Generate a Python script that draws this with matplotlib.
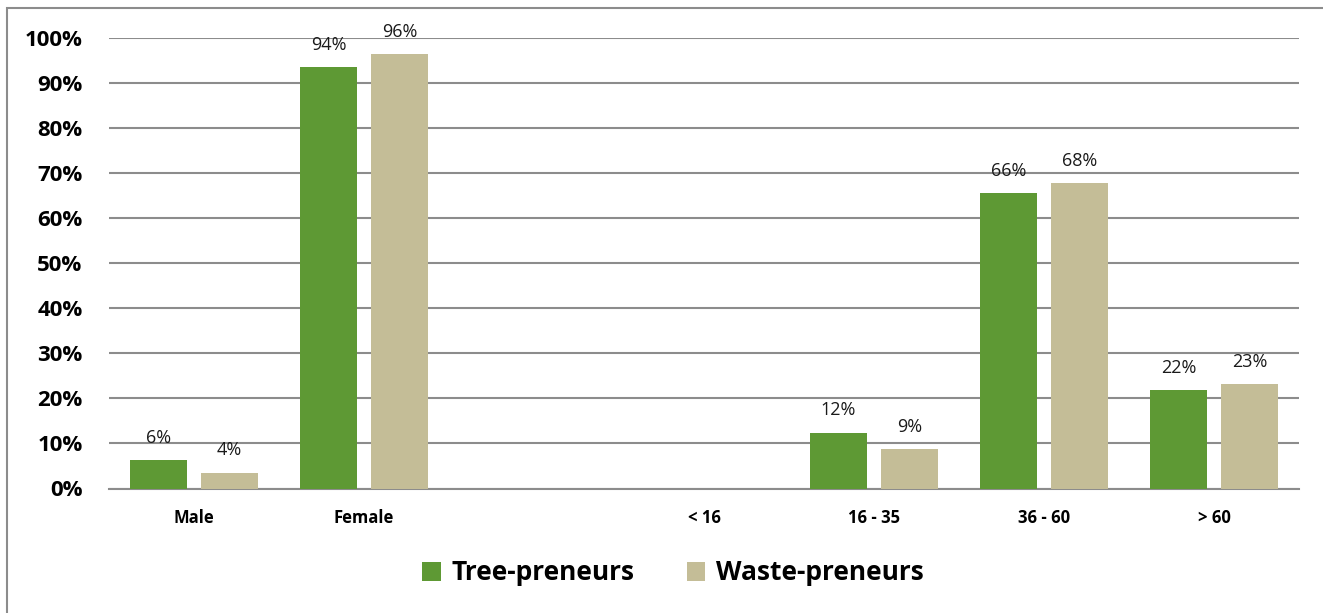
import matplotlib
matplotlib.use("Agg")
import matplotlib.pyplot as plt
from matplotlib.patches import Rectangle
import numpy as np

plt.rcParams['font.family'] = ['Open Sans', 'DejaVu Sans']

categories = ["Male", "Female", "", "< 16", "16 - 35", "36 - 60", "> 60"]
tree_preneurs = [0.063, 0.935, None, None, 0.124, 0.655, 0.219]
waste_preneurs = [0.035, 0.963, None, None, 0.088, 0.678, 0.231]
series_names = ["Tree-preneurs", "Waste-preneurs"]
colors = ["#5E9934", "#C4BD97"]

fig = plt.figure(figsize=(13.23, 6.13), dpi=100)
ax = fig.add_axes([109 / 1323, 124.5 / 613, 1190 / 1323, 450.8 / 613])

# chart-area frame (only its top and left edges fall inside the image)
fig.patches.append(Rectangle((7 / 1323, -20 / 613), 1400 / 1323, 625 / 613,
                             transform=fig.transFigure, fill=False,
                             edgecolor="#8C8C8C", linewidth=1.5))

x = np.arange(len(categories))
width = 0.334
offset = 0.209

for vals, off, col, name in zip([tree_preneurs, waste_preneurs], [-offset, offset],
                                colors, series_names):
    xs = [xi + off for xi, v in zip(x, vals) if v is not None]
    hs = [v for v in vals if v is not None]
    ax.bar(xs, hs, width=width, color=col, label=name, zorder=3)
    for bx, h in zip(xs, hs):
        ax.annotate(f"{round(h * 100):.0f}%", (bx, h), xytext=(0, 16),
                    textcoords="offset points", ha="center", va="center",
                    fontsize=13, color="#1a1a1a")

ax.set_xlim(-0.5, len(categories) - 0.5)
ax.set_ylim(0, 1.0)
yt = np.arange(0, 1.01, 0.1)
ax.set_yticks(yt)
ax.set_yticklabels([f"{int(round(t * 100))}%" for t in yt],
                   fontsize=16, fontweight="bold")
ax.yaxis.grid(True, color="#8C8C8C", linewidth=1.5, zorder=0)
ax.set_axisbelow(True)
ax.tick_params(axis="y", length=0, pad=19)
ax.tick_params(axis="x", length=0, pad=15)

ax.set_xticks(x)
ax.set_xticklabels(categories, fontsize=12, fontweight="bold")

for s in ["top", "right", "left"]:
    ax.spines[s].set_visible(False)
ax.spines["bottom"].set_color("#8C8C8C")
ax.spines["bottom"].set_linewidth(1.5)

fig.legend(loc="center", bbox_to_anchor=(673 / 1323, 1 - 573 / 613), ncol=2,
           frameon=False, prop={"size": 19, "weight": "bold"},
           handlelength=0.7, handleheight=0.7, handletextpad=0.4,
           columnspacing=2.0)

fig.savefig("out.png", dpi=100)
